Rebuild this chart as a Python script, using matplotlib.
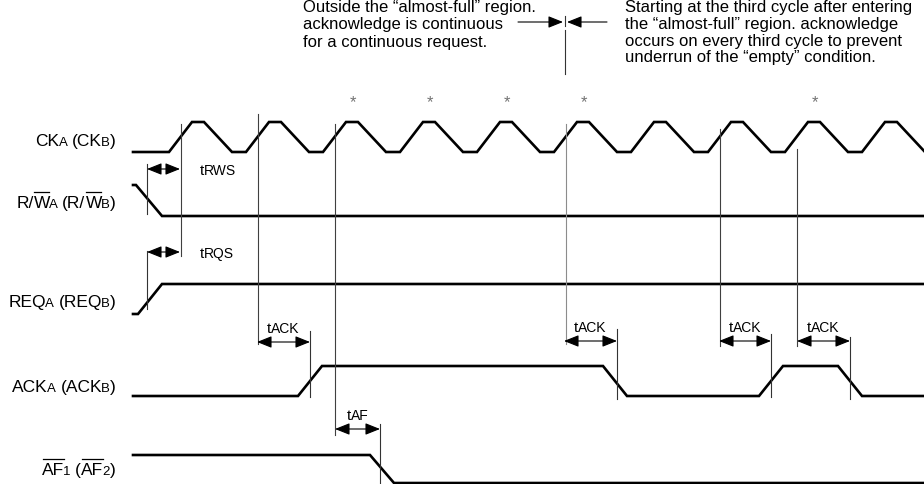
import matplotlib
matplotlib.use('Agg')
import matplotlib.pyplot as plt

plt.rcParams['font.family'] = ['Liberation Sans', 'DejaVu Sans']

# time axis runs in picture pixels, rows are drawn between a high and a low y
t_start, t_end = 133, 924
clk_rise = [169, 246, 323, 400, 477, 554, 631, 708, 785, 862]
clk_ref = [0, 1, 2, 5, 7, 8]          # clock edges that carry a reference line
star_cycles = [2, 3, 4, 5, 8]         # cycles marked with an asterisk
rw_edges = [136]
req_edges = [138]
ack_edges = [298, 603, 759, 838]
af_edges = [370]

# (from edge, to edge, arrow y, label text, label sub-text)
dims = [
    (147, 180, 170, 't', 'RWS'),
    (147, 180, 253, 't', 'RQS'),
    (257, 310, 343, 't', 'ACK'),
    (564, 617, 342, 't', 'ACK'),
    (719, 771, 342, 't', 'ACK'),
    (797, 850, 342, 't', 'ACK'),
    (335, 380, 430, 't', 'AF'),
]

note_left = ['Outside the \u201calmost-full\u201d region.',
             'acknowledge is continuous',
             'for a continuous request.']
note_right = ['Starting at the third cycle after entering',
              'the \u201calmost-full\u201d region. acknowledge',
              'occurs on every third cycle to prevent',
              'underrun of the \u201cempty\u201d condition.']

fig = plt.figure(figsize=(9.24, 4.85), dpi=100)
ax = fig.add_axes([0, 0, 1, 1])
ax.set_xlim(0, 924)
ax.set_ylim(485, 0)
ax.axis('off')
renderer = fig.canvas.get_renderer()

LW = 1.9


def wave(edges, level, hi, lo, rise=24, fall=24):
    xs, ys = [t_start], [level]
    for e in edges:
        d = rise if level == 0 else fall
        xs += [e, e + d]
        ys += [level, 1 - level]
        level = 1 - level
    if xs[-1] < t_end:
        xs.append(t_end)
        ys.append(level)
    ax.plot(xs, [lo + v * (hi - lo) for v in ys], color='black', lw=LW,
            solid_joinstyle='miter', clip_on=True)


# clock
clk_edges = []
for r in clk_rise:
    clk_edges += [r, r + 35]
wave(clk_edges, 0, 123, 153, rise=23, fall=28)
wave(rw_edges, 1, 186, 217, fall=26)
wave(req_edges, 0, 285, 315)
wave(ack_edges, 0, 367, 397)
wave(af_edges, 1, 456, 484)

# asterisks over the clock peaks
for k in star_cycles:
    ax.text(clk_rise[k] + 30, 103, '*', fontsize=12, color='0.45',
            ha='center', va='center')

# reference lines from the clock edges
ref_span = {0: (125, 257), 1: (115, 345), 2: (125, 436),
            5: (125, 345), 7: (130, 347), 8: (150, 347)}
for k in clk_ref:
    x = clk_rise[k] + 11.5
    y0, y1 = ref_span[k]
    ax.plot([x, x], [y0, y1], color='0.25' if k != 5 else '0.55', lw=0.8)

# other thin guide lines
guides = [(147, 165, 215), (147, 252, 310), (310, 332, 398), (617, 330, 400),
          (771, 335, 398), (850, 338, 400), (380, 425, 485), (565, 31, 75),
          (565, 17, 27)]
for x, y0, y1 in guides:
    ax.plot([x, x], [y0, y1], color='0.2', lw=0.8)


def rich(x, y, parts, ha='left'):
    """parts: (text, fontsize, overline, gap before)"""
    items = []
    for s, size, bar, gap in parts:
        t = ax.text(0, y, s, fontsize=size, va='baseline', ha='left')
        w = t.get_window_extent(renderer).width
        items.append((t, w, gap, bar, size))
    total = sum(w + g for _, w, g, _, _ in items)
    cx = x - total if ha == 'right' else (x - total / 2 if ha == 'center' else x)
    for t, w, gap, bar, size in items:
        cx += gap
        t.set_x(cx)
        if bar:
            cap = 0.716 * size * 100 / 72
            ax.plot([cx + 0.5, cx + w - 0.5], [y - cap - 2.5] * 2,
                    color='black', lw=0.9)
        cx += w


L, S, SP, G = 12.5, 9.5, 4.5, -1.0
rich(116, 146, [('CK', L, 0, 0), ('A', S, 0, G), ('(CK', L, 0, SP),
                ('B', S, 0, G), (')', L, 0, 0.5)], ha='right')
rich(116, 208, [('R/', L, 0, 0), ('W', L, 1, 0), ('A', S, 0, G),
                ('(R/', L, 0, SP), ('W', L, 1, 0), ('B', S, 0, G),
                (')', L, 0, 0.5)], ha='right')
rich(116, 307, [('REQ', L, 0, 0), ('A', S, 0, G), ('(REQ', L, 0, SP),
                ('B', S, 0, G), (')', L, 0, 0.5)], ha='right')
rich(116, 392, [('ACK', L, 0, 0), ('A', S, 0, G), ('(ACK', L, 0, SP),
                ('B', S, 0, G), (')', L, 0, 0.5)], ha='right')
rich(116, 475, [('AF', L, 1, 0), ('1', S, 0, G), ('(', L, 0, SP),
                ('AF', L, 1, 0), ('2', S, 0, G), (')', L, 0, 0.5)],
     ha='right')

# dimension arrows
arrow_style = '<|-|>,head_length=0.6,head_width=0.24'
for x0, x1, y, t, sub in dims:
    ax.annotate('', xy=(x1, y), xytext=(x0, y),
                arrowprops=dict(arrowstyle=arrow_style, lw=0.8, color='black',
                                mutation_scale=15, shrinkA=0, shrinkB=0))
    if x0 < 200:
        rich(200, y + 5, [(t, 11, 0, 0), (sub, 10, 0, 0)])
    else:
        rich((x0 + x1) / 2, y - 10, [(t, 11, 0, 0), (sub, 10, 0, 0)],
             ha='center')

# notes at the top
ax.text(303, 0, '\n'.join(note_left), fontsize=12, va='top', ha='left',
        linespacing=1.2)
ax.text(625, 0, '\n'.join(note_right), fontsize=12, va='top', ha='left',
        linespacing=1.15)
for x_tail, x_head in [(518, 563), (607, 567)]:
    ax.annotate('', xy=(x_head, 23), xytext=(x_tail, 23),
                arrowprops=dict(arrowstyle='-|>,head_length=0.6,head_width=0.24',
                                lw=0.8, color='black', mutation_scale=15,
                                shrinkA=0, shrinkB=0))

fig.savefig('out.png', dpi=100)
